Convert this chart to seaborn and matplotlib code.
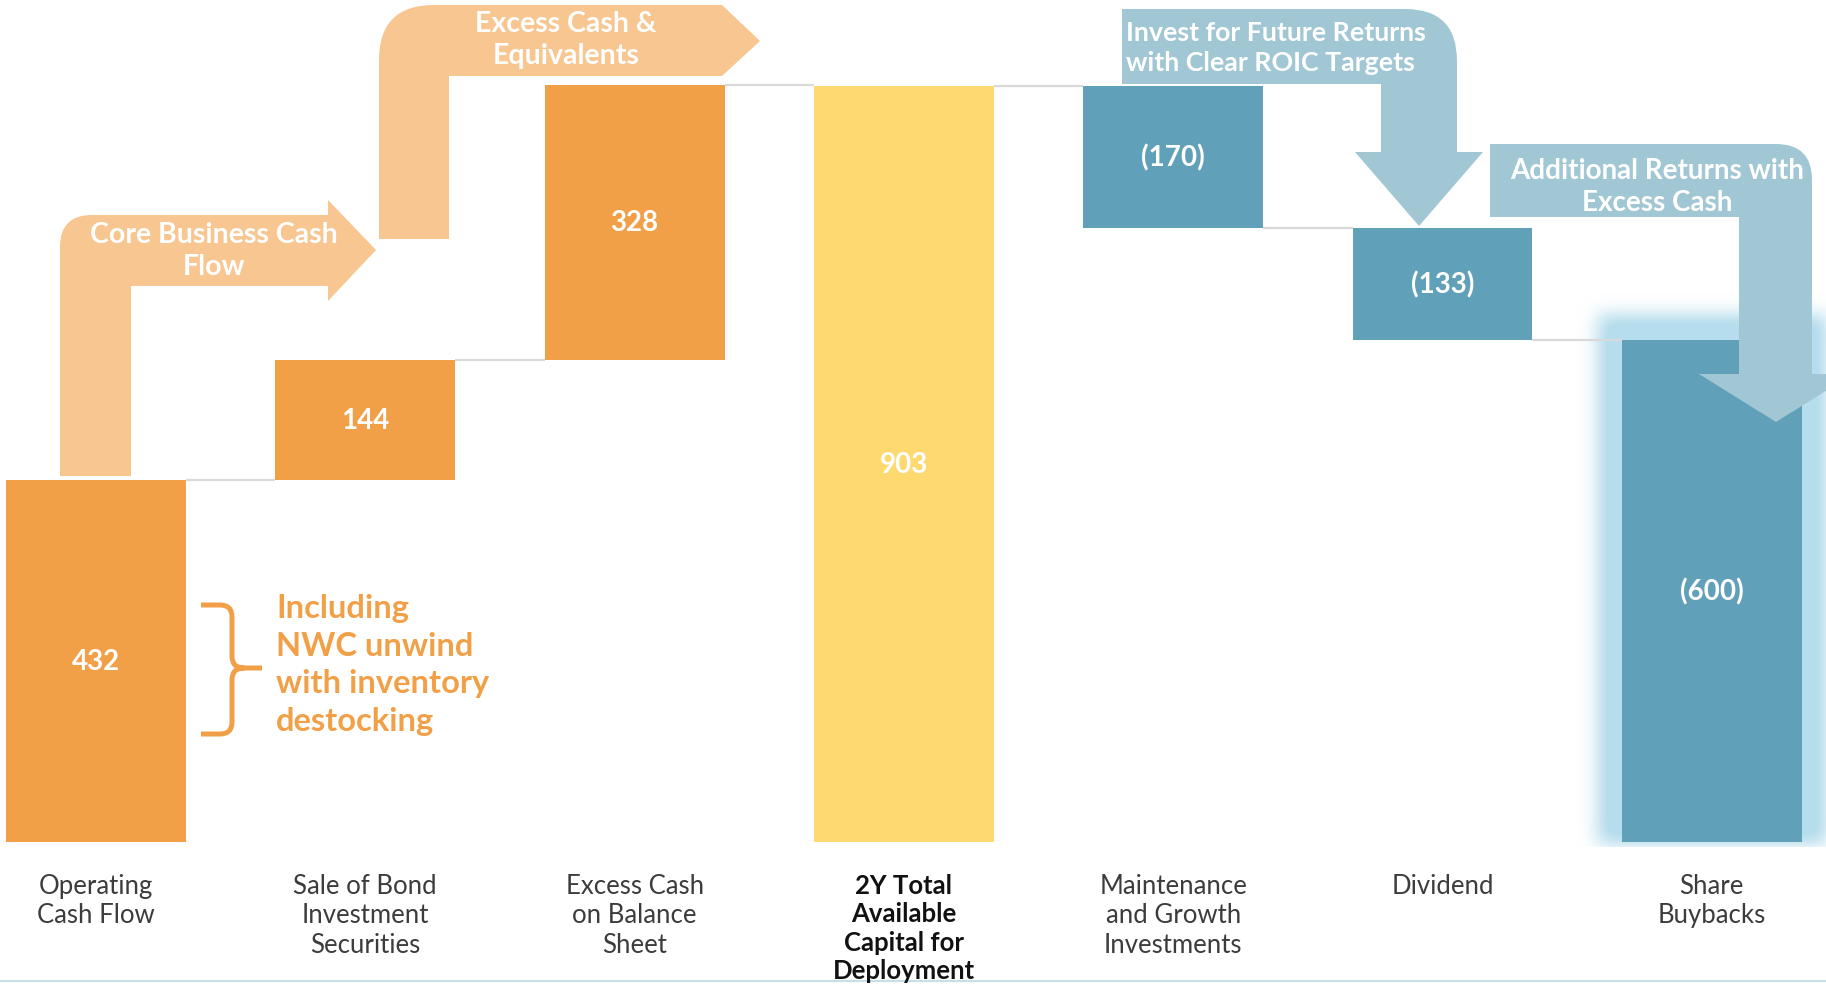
import numpy as np
import pandas as pd
import matplotlib
matplotlib.use("Agg")
import matplotlib.pyplot as plt
import seaborn as sns
from matplotlib.path import Path
from matplotlib.patches import PathPatch
from matplotlib.transforms import Affine2D, blended_transform_factory

# ---- data -------------------------------------------------------------
categories = [
    "Operating\nCash Flow",
    "Sale of Bond\nInvestment\nSecurities",
    "Excess Cash\non Balance\nSheet",
    "2Y Total\nAvailable\nCapital for\nDeployment",
    "Maintenance\nand Growth\nInvestments",
    "Dividend",
    "Share\nBuybacks",
]
sources = [432, 144, 328]          # cash coming in
total = 903                        # capital available
uses = [-170, -133, -600]          # cash deployed

# ---- waterfall geometry ----------------------------------------------
bottoms, heights, levels, signed = [], [], [], []
run = 0
for v in sources:
    bottoms.append(run); heights.append(v); run += v
    levels.append(run); signed.append(v)
bottoms.append(0); heights.append(total); run = total
levels.append(run); signed.append(total)
for v in uses:
    run += v
    bottoms.append(run); heights.append(-v)
    levels.append(run); signed.append(v)

value_labels = [f"({abs(v)})" if v < 0 else f"{v}" for v in signed]

ORANGE = "#F2A047"
YELLOW = "#FED970"
BLUE = "#60A0B8"
LIGHT_ORANGE = "#F8C690"
LIGHT_BLUE = "#A1C7D4"
GLOW = np.array([0.71, 0.87, 0.93])
colors = [ORANGE] * len(sources) + [YELLOW] + [BLUE] * len(uses)

# ---- figure -----------------------------------------------------------
W, H, DPI = 1826, 987, 100
sns.set_theme(style="white")
plt.rcParams["font.family"] = ["Lato", "DejaVu Sans"]

fig = plt.figure(figsize=(W / DPI, H / DPI), dpi=DPI)
ax = fig.add_axes([0, 0, 1, 1])

df = pd.DataFrame({"step": categories, "height": heights})
sns.barplot(data=df, x="step", y="height", hue="step", palette=colors,
            width=0.668, saturation=1, legend=False, ax=ax,
            edgecolor="none", linewidth=0, zorder=2)

# lift every bar onto its running-total base
bars = sorted(ax.patches, key=lambda p: p.get_x())
for p, b in zip(bars, bottoms):
    p.set_y(b)

XLIM = (-0.3565, 6.424)
YLIM = (-172.0, 1006.9)
ax.set_xlim(*XLIM)
ax.set_ylim(*YLIM)
ax.set_axis_off()

# pixel helper: (x, y) measured from the top-left corner of the canvas
px = Affine2D().scale(1 / W, -1 / H).translate(0, 1) + fig.transFigure
x_data_px = blended_transform_factory(ax.transData, px)
dx = (XLIM[1] - XLIM[0]) / W
dy = (YLIM[1] - YLIM[0]) / H

# connectors between consecutive bars
for i in range(len(bars) - 1):
    x0 = bars[i].get_x() + bars[i].get_width()
    x1 = bars[i + 1].get_x()
    ax.plot([x0, x1], [levels[i], levels[i]], color="#D9D9D9", lw=1.6,
            solid_capstyle="butt", zorder=1.5)

# soft halo around the buyback bar
hb = bars[-1]
pad = 70
bw = int(round(hb.get_width() / dx))
bh = int(round(hb.get_height() / dy))
gw, gh = bw + 2 * pad, bh + 2 * pad
yy, xx = np.mgrid[0:gh, 0:gw]
grow = 24
mask = ((xx >= pad - grow) & (xx < pad + bw + grow) &
        (yy >= pad - grow) & (yy < pad + bh + 2)).astype(float)
sig = 9.0
k = np.arange(-int(3 * sig), int(3 * sig) + 1)
kern = np.exp(-0.5 * (k / sig) ** 2); kern /= kern.sum()
blur = np.apply_along_axis(lambda r: np.convolve(r, kern, mode="same"), 1, mask)
blur = np.apply_along_axis(lambda c: np.convolve(c, kern, mode="same"), 0, blur)
blur[pad + bh + 5:, :] = 0
rgba = np.zeros((gh, gw, 4))
rgba[..., :3] = GLOW
rgba[..., 3] = np.clip(blur * 1.15, 0, 1)
gl = hb.get_x() - pad * dx
gr = hb.get_x() + hb.get_width() + pad * dx
gb = hb.get_y() - pad * dy
gt = hb.get_y() + hb.get_height() + pad * dy
ax.imshow(rgba, extent=[gl, gr, gb, gt], origin="upper", aspect="auto",
          interpolation="bilinear", zorder=1)
ax.set_xlim(*XLIM)
ax.set_ylim(*YLIM)

# value labels in the middle of each bar
for p, lab in zip(bars, value_labels):
    ax.text(p.get_x() + p.get_width() / 2, p.get_y() + p.get_height() / 2,
            lab, ha="center", va="center", color="white", fontsize=20,
            fontweight="bold", zorder=5)

# category labels
for i, cat in enumerate(categories):
    bold = i == len(sources)
    ax.text(i, 874, cat, transform=x_data_px, ha="center", va="top",
            fontsize=18.5, linespacing=1.22,
            color="#111111" if bold else "#3C3C3C",
            fontweight="bold" if bold else "normal", zorder=5)


# ---- flow arrows -------------------------------------------------------
def shape(verts, codes, color, z=3):
    ax.add_patch(PathPatch(Path(verts, codes), transform=px, facecolor=color,
                           edgecolor="none", zorder=z))


M, L, C3, CL = Path.MOVETO, Path.LINETO, Path.CURVE3, Path.CLOSEPOLY
ARROW_TXT = dict(transform=px, va="center", color="white",
                 fontweight="bold", linespacing=1.3, zorder=4)

# core business cash flow: up from operating cash flow, then right
r = 32
shape([(60, 477), (60, 216 + r), (60, 216), (60 + r, 216), (328, 216),
       (328, 201), (376, 251), (328, 302), (328, 287), (131, 287),
       (131, 477), (60, 477)],
      [M, L, C3, C3, L, L, L, L, L, L, L, CL], LIGHT_ORANGE)
ax.text(214, 251, "Core Business Cash\nFlow", ha="center", fontsize=20.5,
        **ARROW_TXT)

# excess cash & equivalents: up from bond sale, then right
r = 55
shape([(379, 240), (379, 6 + r), (379, 6), (379 + r, 6), (722, 6),
       (760, 42), (722, 77), (449, 77), (449, 240), (379, 240)],
      [M, L, C3, C3, L, L, L, L, L, CL], LIGHT_ORANGE)
ax.text(566, 40, "Excess Cash &\nEquivalents", ha="center", fontsize=20.5,
        **ARROW_TXT)

# invest for future returns: right, then down to the dividend
r = 52
shape([(1122, 10), (1457 - r, 10), (1457, 10), (1457, 10 + r), (1457, 153),
       (1483, 153), (1419, 227), (1355, 153), (1381, 153), (1381, 85),
       (1122, 85), (1122, 10)],
      [M, L, C3, C3, L, L, L, L, L, L, L, CL], LIGHT_BLUE)
ax.text(1126, 48, "Invest for Future Returns\nwith Clear ROIC Targets",
        ha="left", fontsize=19.3, **ARROW_TXT)

# additional returns: right, then down into the buyback bar
r = 36
shape([(1490, 145), (1812 - r, 145), (1812, 145), (1812, 145 + r),
       (1812, 375), (1853, 375), (1776, 423), (1699, 375), (1739, 375),
       (1739, 218), (1490, 218), (1490, 145)],
      [M, L, C3, C3, L, L, L, L, L, L, L, CL], LIGHT_BLUE)
ax.text(1657, 187, "Additional Returns with\nExcess Cash", ha="center",
        fontsize=20, **ARROW_TXT)

# ---- working-capital note ---------------------------------------------
brace = Path(
    [(201, 606), (220, 606), (232, 606), (232, 618), (232, 657),
     (232, 669), (244, 669), (262, 669),
     (244, 669), (232, 669), (232, 681), (232, 723), (232, 735),
     (220, 735), (201, 735)],
    [M, L, C3, C3, L, C3, C3, L, M, C3, C3, L, C3, C3, L])
ax.add_patch(PathPatch(brace, transform=px, facecolor="none",
                       edgecolor=ORANGE, lw=3.6, capstyle="butt", zorder=4))
ax.text(276, 665, "Including\nNWC unwind\nwith inventory\ndestocking",
        transform=px, ha="left", va="center", color=ORANGE, fontsize=23.5,
        fontweight="bold", linespacing=1.37, zorder=4)

# thin rule along the bottom edge
ax.plot([0, W], [982, 982], transform=px, color="#C9DFE7", lw=1.6, zorder=1)

fig.savefig("out.png", dpi=DPI)
